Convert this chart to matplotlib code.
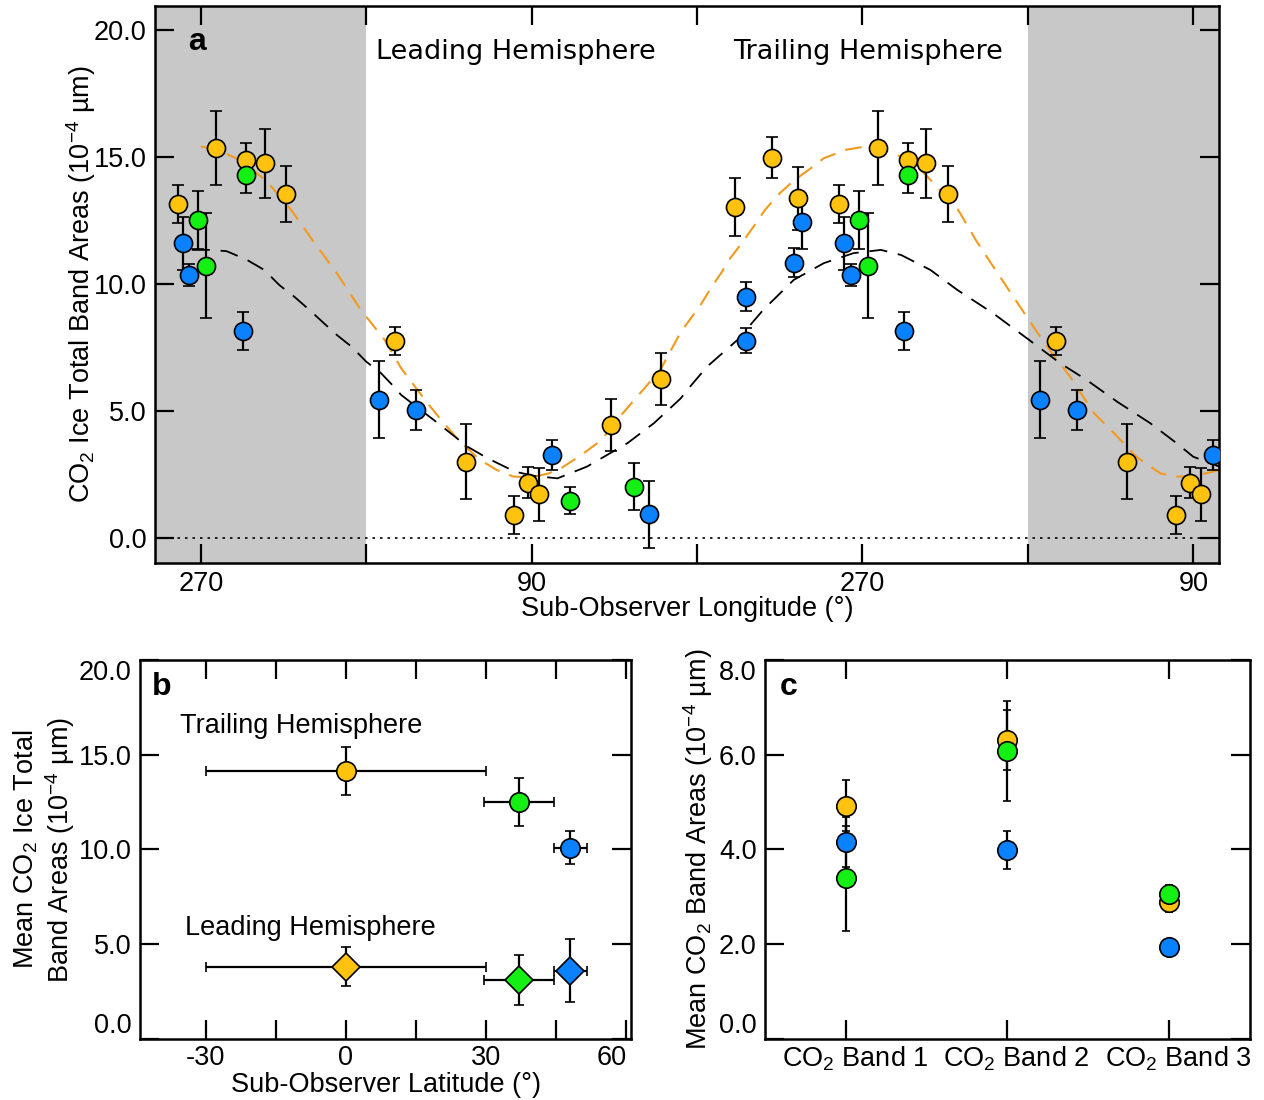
import matplotlib
matplotlib.use("Agg")
import matplotlib.pyplot as plt
import matplotlib.transforms as mtransforms

plt.rcParams['font.family'] = ['Liberation Sans', 'DejaVu Sans']
plt.rcParams['mathtext.fontset'] = 'custom'
plt.rcParams['mathtext.rm'] = 'Liberation Sans'
plt.rcParams['mathtext.it'] = 'Liberation Sans:italic'
plt.rcParams['mathtext.default'] = 'regular'

ORANGE = '#FFC20E'
GREEN = '#14F014'
BLUE = '#0A82FF'
FIT_ORANGE = '#F29A1E'
GREY = '#C8C8C8'

# ---- panel a: band area vs sub-observer longitude ----
orange_lon = [282.7, 261.8, 245.3, 235.3, 223.5, 164.5, 126.0, 99.6, 91.8, 86.0,
              47.0, 19.4, 339.1, 319.0, 305.0]
orange_area = [13.15, 15.35, 14.89, 14.76, 13.56, 7.78, 3.02, 0.92, 2.19, 1.73,
               4.46, 6.27, 13.02, 14.98, 13.39]
orange_err = [0.75, 1.45, 0.66, 1.36, 1.10, 0.55, 1.47, 0.75, 0.60, 1.05,
              1.02, 1.04, 1.14, 0.81, 1.24]

green_lon = [271.8, 267.1, 245.3, 69.4, 34.5]
green_area = [12.53, 10.73, 14.30, 1.48, 2.03]
green_err = [1.13, 2.07, 0.72, 0.53, 0.92]

blue_lon = [280.0, 276.4, 247.3, 173.2, 153.2, 79.0, 26.3, 333.6, 333.6, 307.2, 303.0]
blue_area = [11.61, 10.37, 8.17, 5.45, 5.05, 3.28, 0.94, 9.51, 7.77, 10.85, 12.43]
blue_err = [1.04, 0.44, 0.75, 1.52, 0.78, 0.59, 1.31, 0.58, 0.49, 0.58, 1.05]

# fitted curves
fit_orange_x = [270, 260, 251, 243, 234, 221, 208, 196, 183, 170, 161, 148, 140, 129,
                118, 109, 100, 90, 81, 74, 63, 52, 42, 31, 20, 9, -2, -8, -13, -18,
                -25, -32, -37, -45, -52, -62, -69, -81, -90, -100, -110, -118, -127,
                -142, -152, -162, -175, -187, -192, -203, -216, -227, -239, -252,
                -261, -270, -277, -285]
fit_orange_y = [15.42, 15.25, 14.96, 14.57, 14.04, 12.93, 11.61, 10.43, 8.99, 7.81,
                6.69, 5.44, 4.72, 3.80, 3.08, 2.69, 2.43, 2.40, 2.55, 2.76, 3.28,
                3.87, 4.79, 5.71, 6.63, 8.10, 9.20, 9.90, 10.43, 11.02, 11.68, 12.40,
                12.93, 13.58, 14.04, 14.57, 14.96, 15.29, 15.40, 15.30, 15.05, 14.80,
                14.10, 12.93, 11.70, 10.60, 9.19, 7.90, 7.40, 6.36, 4.92, 4.13, 3.21,
                2.56, 2.43, 2.45, 2.56, 2.70]

fit_black_x = [275, 265, 256, 245, 235.5, 227.4, 219.2, 211, 203, 196, 188, 180, 172,
               165, 161, 141, 125, 114, 99, 88, 76, 60, 38, 23.5, 9, 3, -5.5, -22,
               -36, -52.6, -69, -85, -100, -111, -127, -141.5, -161, -179.5, -197.6,
               -212, -228.5, -246.6, -261, -270, -285]
fit_black_y = [11.35, 11.35, 11.30, 10.96, 10.56, 9.97, 9.51, 8.99, 8.46, 8.00, 7.54,
               6.95, 6.50, 5.97, 5.64, 4.53, 3.61, 3.15, 2.62, 2.45, 2.36, 2.82, 3.74,
               4.53, 5.50, 6.04, 6.76, 7.81, 8.99, 10.17, 10.83, 11.22, 11.35, 11.15,
               10.56, 9.78, 8.86, 7.87, 6.89, 6.23, 5.38, 4.53, 3.74, 3.21, 2.80]

lon_ticks = [270, 180, 90, 0, -90, -180, -270]
lon_labels = ['270', '', '90', '', '270', '', '90']

# ---- panel b: hemisphere means vs sub-observer latitude ----
lat = [0.0, 37.0, 48.0]
lat_err = [30.0, 7.5, 3.5]
trail_mean = [14.15, 12.5, 10.1]
trail_err = [1.25, 1.25, 0.85]
lead_mean = [3.82, 3.12, 3.61]
lead_err = [1.05, 1.32, 1.64]
lat_colors = [ORANGE, GREEN, BLUE]

# ---- panel c: individual band means ----
bands = ['CO$_2$ Band 1', 'CO$_2$ Band 2', 'CO$_2$ Band 3']
band_orange = [4.92, 6.31, 2.89]
band_orange_err = [0.54, 0.63, 0.20]
band_green = [3.39, 6.08, 3.06]
band_green_err = [1.11, 1.06, 0.20]
band_blue = [4.16, 3.99, 1.95]
band_blue_err = [0.52, 0.40, 0.05]

FS = 19.5
fig = plt.figure(figsize=(12.64, 11.0), dpi=100)


def style(ax):
    for s in ax.spines.values():
        s.set_linewidth(1.8)
    ax.tick_params(direction='in', length=14, width=1.6, top=True, right=True,
                   labelsize=FS, pad=6)


# panel a
ax = fig.add_axes([0.1226, 0.4882, 0.8418, 0.5064])
ax.axvspan(295, 180, color=GREY, lw=0, zorder=0)
ax.axvspan(-180, -290, color=GREY, lw=0, zorder=0)
ax.axhline(0, color='k', ls=(0, (1.5, 3)), lw=1.2, zorder=1)
ax.plot(fit_orange_x, fit_orange_y, color=FIT_ORANGE, lw=1.5, ls=(0, (8, 5)), zorder=2)
ax.plot(fit_black_x, fit_black_y, color='k', lw=1.3, ls=(0, (10, 6)), zorder=2)
for lons, vals, errs, c in [(orange_lon, orange_area, orange_err, ORANGE),
                            (green_lon, green_area, green_err, GREEN),
                            (blue_lon, blue_area, blue_err, BLUE)]:
    for shift in (0, -360):
        xs = [v + shift for v in lons]
        ax.errorbar(xs, vals, yerr=errs, fmt='o', ms=13, mfc=c, mec='k', mew=1.2,
                    ecolor='k', elinewidth=1.6, capsize=4, capthick=1.6, zorder=3)
ax.set_xlim(295, -284)
ax.set_ylim(-0.97, 20.95)
ax.set_xticks(lon_ticks)
ax.set_xticklabels(lon_labels)
ax.set_yticks([0, 5, 10, 15, 20])
ax.set_yticklabels(['0.0', '5.0', '10.0', '15.0', '20.0'])
style(ax)
ax.set_xlabel('Sub-Observer Longitude (°)', fontsize=FS, labelpad=-1)
ax.set_ylabel('CO$_2$ Ice Total Band Areas (10$^{-4}$ µm)', fontsize=FS, labelpad=-3)
ax.text(0.0395, 0.935, 'a', transform=ax.transAxes, fontsize=23, fontweight='bold',
        va='center', ha='center')
ax.text(0.2077, 0.918, 'Leading Hemisphere', transform=ax.transAxes, fontsize=FS,
        family='DejaVu Sans', va='center', ha='left')
ax.text(0.543, 0.918, 'Trailing Hemisphere', transform=ax.transAxes, fontsize=FS,
        family='DejaVu Sans', va='center', ha='left')

# panel b
bx = fig.add_axes([0.1108, 0.0555, 0.3884, 0.3445])
for i in range(3):
    bx.errorbar(lat[i], trail_mean[i], xerr=lat_err[i], yerr=trail_err[i], fmt='o',
                ms=14, mfc=lat_colors[i], mec='k', mew=1.2, ecolor='k',
                elinewidth=1.6, capsize=3.5, capthick=1.6, zorder=3)
    bx.errorbar(lat[i], lead_mean[i], xerr=lat_err[i], yerr=lead_err[i], fmt='D',
                ms=14, mfc=lat_colors[i], mec='k', mew=1.2, ecolor='k',
                elinewidth=1.6, capsize=3.5, capthick=1.6, zorder=3)
bx.set_xlim(-44, 61)
bx.set_ylim(0, 20)
bx.set_xticks([-30, -15, 0, 15, 30, 45, 60])
bx.set_xticklabels(['-30', '', '0', '', '30', '', '60'])
bx.set_yticks([0, 5, 10, 15, 20])
bx.set_yticklabels(['0.0', '5.0', '10.0', '15.0', '20.0'])
style(bx)
bx.tick_params(axis='x', pad=4)
bx.get_xticklabels()[-1].set_ha('right')
bx.get_yticklabels()[0].set_va('bottom')
bx.get_yticklabels()[-1].set_va('top')
bx.set_xlabel('Sub-Observer Latitude (°)', fontsize=FS, labelpad=1)
bx.set_ylabel('Mean CO$_2$ Ice Total\nBand Areas (10$^{-4}$ µm)', fontsize=FS,
              labelpad=1, linespacing=1.15)
bx.text(0.045, 0.93, 'b', transform=bx.transAxes, fontsize=23, fontweight='bold',
        va='center', ha='center')
bx.text(0.0815, 0.826, 'Trailing Hemisphere', transform=bx.transAxes, fontsize=FS,
        va='center', ha='left')
bx.text(0.0916, 0.293, 'Leading Hemisphere', transform=bx.transAxes, fontsize=FS,
        va='center', ha='left')

# panel c
cx = fig.add_axes([0.6052, 0.0555, 0.3837, 0.3445])
pos = [1, 2, 3]
for vals, errs, c in [(band_orange, band_orange_err, ORANGE),
                      (band_green, band_green_err, GREEN),
                      (band_blue, band_blue_err, BLUE)]:
    cx.errorbar(pos, vals, yerr=errs, fmt='o', ms=14, mfc=c, mec='k', mew=1.2,
                ecolor='k', elinewidth=1.6, capsize=3, capthick=1.6, zorder=3)
cx.set_xlim(0.5, 3.5)
cx.set_ylim(0, 8)
cx.set_xticks(pos)
cx.set_xticklabels(bands)
cx.set_yticks([0, 2, 4, 6, 8])
cx.set_yticklabels(['0.0', '2.0', '4.0', '6.0', '8.0'])
style(cx)
cx.tick_params(axis='x', pad=4)
cx.get_yticklabels()[0].set_va('bottom')
cx.get_yticklabels()[-1].set_va('top')
shift = mtransforms.ScaledTranslation(9 / 100, 0, fig.dpi_scale_trans)
for lab in cx.get_xticklabels():
    lab.set_transform(lab.get_transform() + shift)
cx.set_ylabel('Mean CO$_2$ Band Areas (10$^{-4}$ µm)', fontsize=FS, labelpad=3)
cx.text(0.048, 0.93, 'c', transform=cx.transAxes, fontsize=23, fontweight='bold',
        va='center', ha='center')

fig.savefig('out.png', dpi=100)
